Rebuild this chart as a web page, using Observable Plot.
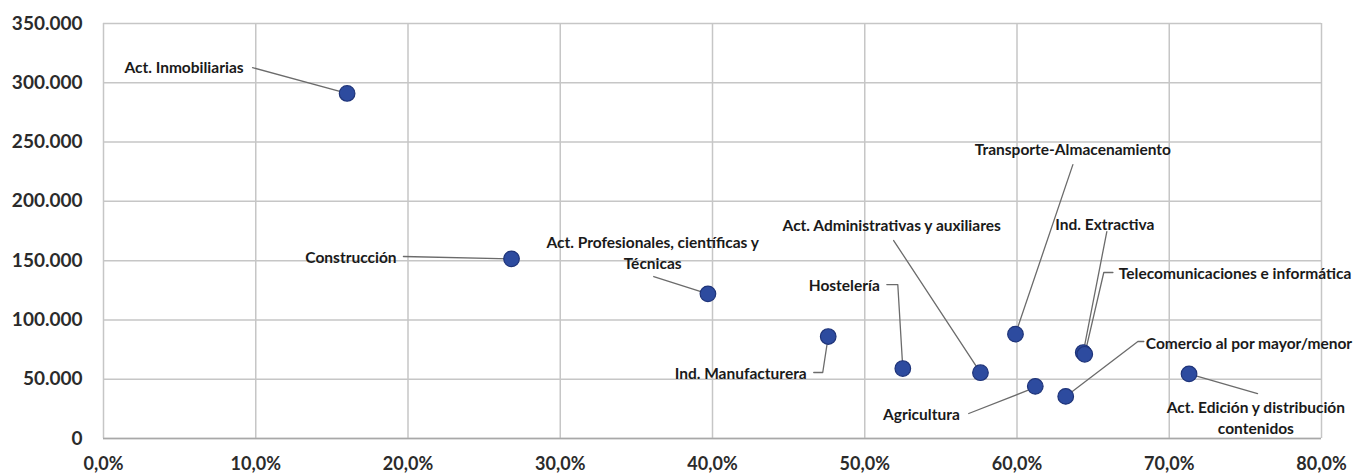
<!DOCTYPE html>
<html><head><meta charset="utf-8">
<script src="https://cdn.jsdelivr.net/npm/d3@7"></script>
<script src="https://cdn.jsdelivr.net/npm/@observablehq/plot@0.6"></script>
<style>body{margin:0;background:#fff} svg{display:block}</style>
</head><body><div id="chart"></div>
<script>
// Data: x = % (0-80), y = value
const sectors = ["Act. Inmobiliarias","Construcción","Act. Profesionales, científicas y Técnicas","Ind. Manufacturera","Hostelería","Act. Administrativas y auxiliares","Transporte-Almacenamiento","Agricultura","Comercio al por mayor/menor","Ind. Extractiva","Telecomunicaciones e informática","Act. Edición y distribución contenidos"];
const pctValues = [16.0, 26.8, 39.7, 47.6, 52.5, 57.6, 59.9, 61.2, 63.2, 64.35, 64.45, 71.3];
const empValues = [291000, 151500, 122000, 86000, 59000, 55500, 88000, 44000, 35500, 72500, 71000, 54500];

// Label texts and their anchor points (in data units)
const labelText = ["Act. Inmobiliarias","Construcción","Act. Profesionales, científicas y\nTécnicas","Ind. Manufacturera","Hostelería","Act. Administrativas y auxiliares","Transporte-Almacenamiento","Agricultura","Comercio al por mayor/menor","Ind. Extractiva","Telecomunicaciones e informática","Act. Edición y distribución\ncontenidos"];
const labelPct = [9.2, 19.25, 36.07, 46.19, 50.99, 51.77, 63.67, 56.24, 68.46, 65.77, 66.69, 75.69];
const labelVal = [313500, 153500, 157250, 55650, 129850, 180450, 244500, 21080, 80950, 181300, 140000, 18550];
const labelAnchor = ["end","end","middle","end","end","middle","middle","end","start","middle","start","middle"];

// Leader line waypoints (data units), ending at each point
const leaderPct = [[9.79],[19.7],[36.14],[46.65,47.24],[51.45,52.17],[51.9],[63.67],[56.83,60.7],[68.33,67.94],[65.9],[66.3,65.7],[75.8]];
const leaderVal = [[312800],[153500],[136600],[55650,55650],[129850,129850],[166950],[231000],[21080,40500],[81800,81800],[174500],[140000,140000],[37900]];

const xTicks = [0, 10, 20, 30, 40, 50, 60, 70, 80];
const yTicks = [0, 50000, 100000, 150000, 200000, 250000, 300000, 350000];

const points = sectors.map((s, i) => ({sector: s, pct: pctValues[i], val: empValues[i]}));
const labels = labelText.map((t, i) => ({text: t, pct: labelPct[i], val: labelVal[i], anchor: labelAnchor[i]}));
const leaders = [];
sectors.forEach((s, i) => {
  leaderPct[i].forEach((p, j) => leaders.push({sector: s, pct: p, val: leaderVal[i][j]}));
  leaders.push({sector: s, pct: pctValues[i], val: empValues[i]});
});

const loc = d3.formatLocale({decimal: ",", thousands: ".", grouping: [3], currency: ["", "€"]});
const yFmt = loc.format(",d");
const xFmt = d => d.toFixed(1).replace(".", ",") + "%";

const font = "Lato, 'Open Sans', sans-serif";
const gridColor = "#c6c6c6";

const chart = Plot.plot({
  width: 1363,
  height: 475,
  marginLeft: 103,
  marginRight: 42,
  marginTop: 23,
  marginBottom: 37,
  style: {fontFamily: font, background: "#fff"},
  x: {domain: [0, 80]},
  y: {domain: [0, 350000]},
  marks: [
    Plot.gridX(xTicks, {stroke: gridColor, strokeOpacity: 1, strokeWidth: 1.5}),
    Plot.gridY(yTicks, {stroke: gridColor, strokeOpacity: 1, strokeWidth: 1.5}),
    Plot.ruleY([0], {stroke: "#a8a8a8", strokeWidth: 1.5}),
    Plot.axisX(xTicks, {tickFormat: xFmt, tickSize: 0, tickPadding: 19, fontSize: 18, fontWeight: "bold", fill: "#2b2b2b", label: null}),
    Plot.axisY(yTicks, {tickFormat: yFmt, tickSize: 0, tickPadding: 21, fontSize: 19, fontWeight: "bold", fill: "#2b2b2b", label: null}),
    Plot.line(leaders, {x: "pct", y: "val", z: "sector", stroke: "#6b6b6b", strokeWidth: 1.3}),
    Plot.dot(points, {x: "pct", y: "val", r: 7.8, fill: "#2d4b9f", stroke: "#1f3479", strokeWidth: 1.2}),
    ...["start", "middle", "end"].map(a => Plot.text(labels.filter(d => d.anchor === a), {
      x: "pct", y: "val", text: "text", textAnchor: a, lineAnchor: "middle", lineHeight: 1.35,
      fontSize: 15.5, fontWeight: "bold", fill: "#1a1a1a", fontFamily: font
    }))
  ]
});
document.getElementById("chart").append(chart);
</script>
</body></html>
